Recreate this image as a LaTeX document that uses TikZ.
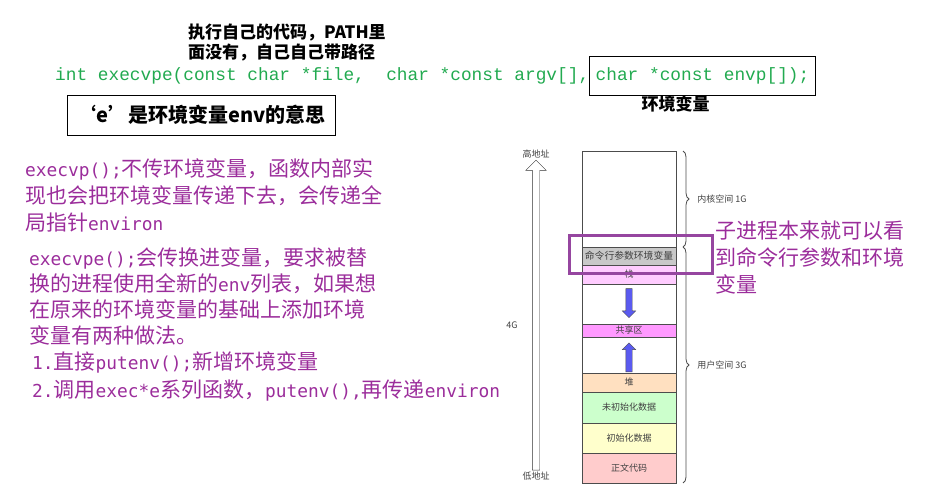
\documentclass[tikz,border=0pt]{standalone}
\usepackage{fontspec}
\setmainfont{Noto Sans CJK SC}
\setmonofont{Liberation Mono}
\newfontfamily\halfw{DejaVu Sans Mono}[Scale=0.85]
\newcommand\lat[1]{{\halfw #1}}
\usetikzlibrary{positioning,shapes.arrows,decorations.pathreplacing}

\definecolor{codegreen}{RGB}{34,170,80}
\definecolor{notepurple}{RGB}{155,45,155}
\definecolor{markpurple}{RGB}{150,70,160}
\definecolor{flowblue}{RGB}{90,90,240}
\definecolor{argsgray}{RGB}{200,200,200}
\definecolor{stackpink}{RGB}{255,204,255}
\definecolor{sharedpink}{RGB}{255,153,255}
\definecolor{heappeach}{RGB}{255,224,192}
\definecolor{bssgreen}{RGB}{204,255,204}
\definecolor{datayellow}{RGB}{255,255,204}
\definecolor{textred}{RGB}{255,204,204}

\begin{document}
\begin{tikzpicture}[
  x=1pt,y=-1pt,
  node distance=0pt,
  note/.style={font=\fontsize{21}{27}\selectfont,text=notepurple,align=left,anchor=west,inner sep=0pt},
  hint/.style={font=\bfseries\fontsize{17}{20}\selectfont,align=left,inner sep=0pt},
  code/.style={font=\ttfamily\fontsize{17.8}{20}\selectfont,text=codegreen,inner sep=0pt},
  seg/.style={draw=black!70,minimum width=94pt,inner sep=0pt,outer sep=0pt,font=\fontsize{9}{9}\selectfont,text=black!75},
  small/.style={font=\fontsize{9}{9}\selectfont,text=black!75,inner sep=0pt},
  brace/.style={decorate,decoration={brace,amplitude=6pt},draw=black!70,thick},
  flowarrow/.style={single arrow,draw=black!70,fill=flowblue,inner sep=3pt,single arrow head extend=3.5pt,minimum height=29pt},
  markbox/.style={draw=markpurple,line width=3pt}
]
  \useasboundingbox (0,0) rectangle (931,494);

  % prototype and remarks
  \node[hint,anchor=west] (pathnote) at (188,43) {执行自己的代码，PATH里\\面没有，自己自己带路径};
  \node[code,anchor=west] (proto) at (55,76) {int execvpe(const char *file, \ char *const argv[],};
  \node[code,draw=black,inner xsep=6pt,minimum height=39pt,right=0pt of proto] (envp) {char *const envp[]);};
  \node[hint,below=0pt of envp,xshift=-27pt] (envlabel) {环境变量};
  \node[hint,draw=black,font=\bfseries\fontsize{20}{20}\selectfont,minimum width=268pt,minimum height=40pt] (emean) at (201,115) {‘e’是环境变量env的意思};

  \node[note] (vpnote) at (25,195) {\lat{execvp();}不传环境变量，函数内部实\\现也会把环境变量传递下去，会传递全\\局指针\lat{environ}};
  \node[note,font=\fontsize{21}{26}\selectfont] (vpenote) at (29,296) {\lat{execvpe();}会传换进变量，要求被替\\换的进程使用全新的\lat{env}列表，如果想\\在原来的环境变量的基础上添加环境\\变量有两种做法。};
  \node[note,font=\fontsize{21}{28}\selectfont] (ways) at (32,376) {\lat{1.}直接\lat{putenv();}新增环境变量\\\lat{2.}调用\lat{exec*e}系列函数，\lat{putenv(),}再传递\lat{environ}};

  % address space
  \node[single arrow,draw=black!80,fill=white,inner sep=3.5pt,single arrow head extend=6.5pt,minimum height=310pt,rotate=90] (addr) at (536,317) {};
  \node[small,above=1pt of addr.east] (high) {高地址};
  \node[small,below=1pt of addr.west] (low) {低地址};
  \node[small] (size) at (512,325) {4G};

  \node[seg,minimum height=96pt] (kernel) at (629,199) {};
  \node[seg,fill=argsgray,minimum height=18pt,font=\fontsize{9.8}{9.8}\selectfont,below=of kernel] (args) {命令行参数环境变量};
  \node[seg,fill=stackpink,minimum height=19pt,below=of args] (stack) {栈};
  \node[seg,minimum height=40pt,below=of stack] (gapa) {};
  \node[seg,fill=sharedpink,minimum height=13pt,below=of gapa] (shared) {共享区};
  \node[seg,minimum height=36pt,below=of shared] (gapb) {};
  \node[seg,fill=heappeach,minimum height=19pt,below=of gapb] (heap) {堆};
  \node[seg,fill=bssgreen,minimum height=31pt,below=of heap] (bss) {未初始化数据};
  \node[seg,fill=datayellow,minimum height=30pt,below=of bss] (data) {初始化数据};
  \node[seg,fill=textred,minimum height=30pt,below=of data] (text) {正文代码};

  \node[flowarrow,rotate=-90] (down) at ([yshift=2.5pt]gapa.center) {};
  \node[flowarrow,rotate=90] (up) at ([yshift=-4pt]gapb.center) {};

  \draw[brace] ([xshift=7pt]kernel.north east) -- node[small,right=14pt] {内核空间 1G} ([xshift=7pt]kernel.south east);
  \draw[brace] ([xshift=7pt]kernel.south east) -- node[small,right=14pt] {用户空间 3G} ([xshift=7pt]text.south east);

  \draw[markbox] ([shift={(-13pt,11pt)}]args.north west) rectangle ([shift={(36pt,-8pt)}]args.south east);
  \node[note] (childnote) at (715,258) {子进程本来就可以看\\到命令行参数和环境\\变量};
\end{tikzpicture}
\end{document}
